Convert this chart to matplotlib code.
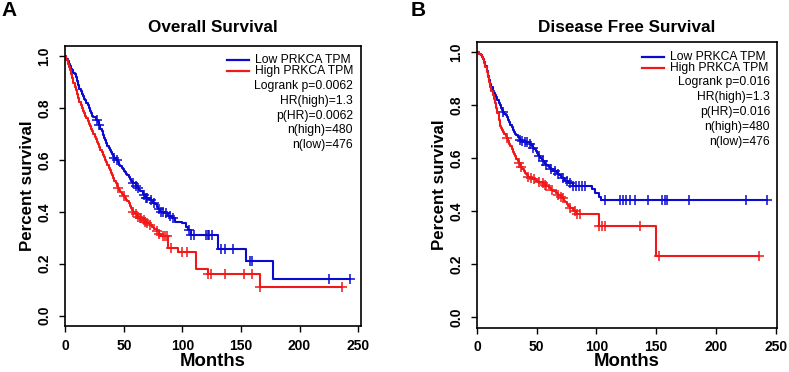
import numpy as np
import matplotlib.pyplot as plt
from matplotlib.lines import Line2D

plt.rcParams['font.family'] = ['Liberation Sans', 'DejaVu Sans']

# ---- data: (months, survival) knots of the KM steps ----
os_low_t = [0, 1, 2, 3, 4, 5, 6, 7, 8, 9, 10, 11, 12, 13, 14, 15, 16, 17, 18, 19, 20, 21, 22, 23,
            24, 26, 28, 29, 30, 31, 32, 33, 34, 35, 36, 37, 38, 39, 40, 41, 42, 43, 45, 46, 47,
            48, 49, 50, 51, 52, 53, 54, 55, 56, 57, 58, 60, 61, 62, 63, 64, 66, 67, 68, 69, 71,
            72, 74, 75, 77, 78, 79, 81, 85, 88, 91, 94, 100, 103, 105, 107, 130, 154, 177, 243]
os_low_s = [1.0, 0.99, 0.98, 0.97, 0.96, 0.95, 0.945, 0.935, 0.93, 0.92, 0.905, 0.89, 0.875,
            0.865, 0.855, 0.845, 0.835, 0.83, 0.82, 0.81, 0.80, 0.79, 0.78, 0.77, 0.765, 0.755,
            0.745, 0.735, 0.72, 0.71, 0.695, 0.685, 0.675, 0.665, 0.655, 0.645, 0.638, 0.63,
            0.622, 0.615, 0.608, 0.60, 0.59, 0.582, 0.575, 0.57, 0.563, 0.558, 0.552, 0.545,
            0.54, 0.535, 0.528, 0.52, 0.515, 0.51, 0.50, 0.495, 0.49, 0.485, 0.48, 0.47, 0.465,
            0.46, 0.455, 0.45, 0.445, 0.44, 0.435, 0.43, 0.42, 0.41, 0.40, 0.395, 0.385, 0.375,
            0.36, 0.355, 0.34, 0.33, 0.31, 0.255, 0.21, 0.14, 0.14]
os_high_t = [0, 1, 2, 3, 4, 5, 6, 7, 8, 9, 10, 11, 12, 13, 14, 15, 16, 17, 18, 19, 20, 21, 22,
             23, 24, 25, 26, 27, 28, 29, 30, 31, 32, 33, 34, 35, 36, 37, 38, 39, 40, 41, 42, 43,
             44, 45, 46, 47, 48, 49, 50, 51, 52, 53, 54, 55, 56, 57, 58, 59, 60, 61, 62, 64, 66,
             68, 70, 72, 74, 76, 78, 80, 82, 88, 96, 112, 122, 166, 236]
os_high_s = [1.0, 0.985, 0.97, 0.957, 0.945, 0.93, 0.915, 0.898, 0.88, 0.868, 0.855, 0.84,
             0.825, 0.812, 0.80, 0.79, 0.78, 0.77, 0.76, 0.75, 0.74, 0.73, 0.72, 0.71, 0.70,
             0.69, 0.68, 0.67, 0.66, 0.65, 0.64, 0.63, 0.62, 0.61, 0.60, 0.59, 0.58, 0.57, 0.56,
             0.55, 0.54, 0.53, 0.52, 0.51, 0.50, 0.492, 0.484, 0.475, 0.468, 0.464, 0.46, 0.453,
             0.447, 0.44, 0.432, 0.424, 0.415, 0.408, 0.40, 0.395, 0.39, 0.385, 0.38, 0.375,
             0.37, 0.362, 0.355, 0.348, 0.34, 0.333, 0.325, 0.315, 0.305, 0.26, 0.245, 0.18,
             0.16, 0.11, 0.11]
os_low_cens = [27, 29, 42, 44, 58, 60, 62, 67, 69, 70, 73, 76, 80, 82, 83, 86, 89, 92, 106, 107,
               110, 120, 122, 123, 125, 133, 136, 143, 158, 159, 225, 243]
os_high_cens = [45, 50, 58, 60, 62, 64, 65, 67, 68, 70, 72, 78, 80, 83, 85, 87, 90, 100, 104,
                122, 124, 136, 153, 159, 166, 236]

dfs_low_t = [0, 2, 3, 4, 5, 6, 7, 8, 9, 10, 11, 12, 13, 14, 15, 16, 17, 18, 19, 20, 21, 22, 23,
             24, 25, 26, 27, 28, 29, 30, 31, 32, 33, 34, 35, 36, 37, 40, 44, 45, 46, 47, 48, 49,
             50, 51, 52, 53, 54, 55, 56, 57, 58, 59, 60, 61, 62, 64, 65, 67, 68, 69, 70, 71, 73,
             74, 76, 77, 80, 96, 99, 102, 104, 243]
dfs_low_s = [1.0, 0.995, 0.99, 0.982, 0.975, 0.963, 0.95, 0.93, 0.91, 0.895, 0.88, 0.868,
             0.855, 0.847, 0.838, 0.83, 0.82, 0.81, 0.80, 0.79, 0.782, 0.775, 0.768, 0.762,
             0.755, 0.745, 0.735, 0.725, 0.717, 0.708, 0.70, 0.693, 0.686, 0.68, 0.675, 0.67,
             0.665, 0.662, 0.655, 0.65, 0.645, 0.64, 0.633, 0.627, 0.62, 0.613, 0.607, 0.60,
             0.595, 0.59, 0.585, 0.58, 0.575, 0.57, 0.567, 0.563, 0.56, 0.553, 0.55, 0.545,
             0.54, 0.535, 0.53, 0.525, 0.52, 0.515, 0.51, 0.505, 0.495, 0.485, 0.47, 0.455,
             0.442, 0.442]
dfs_high_t = [0, 2, 3, 4, 5, 6, 7, 8, 9, 10, 11, 12, 13, 14, 15, 16, 17, 18, 19, 20, 21, 22,
              23, 24, 25, 26, 27, 28, 29, 30, 31, 32, 33, 34, 35, 36, 37, 38, 39, 40, 41, 42,
              43, 45, 47, 49, 51, 55, 57, 58, 60, 62, 64, 66, 68, 70, 71, 73, 74, 75, 76, 78,
              80, 81, 83, 102, 150, 236]
dfs_high_s = [1.0, 0.995, 0.99, 0.983, 0.975, 0.96, 0.945, 0.925, 0.905, 0.888, 0.87, 0.855,
              0.84, 0.825, 0.81, 0.79, 0.77, 0.745, 0.72, 0.713, 0.707, 0.70, 0.692, 0.683,
              0.675, 0.665, 0.655, 0.645, 0.635, 0.625, 0.615, 0.607, 0.598, 0.59, 0.582, 0.573,
              0.565, 0.558, 0.552, 0.545, 0.54, 0.535, 0.53, 0.525, 0.52, 0.515, 0.51, 0.505,
              0.50, 0.495, 0.488, 0.48, 0.475, 0.47, 0.462, 0.455, 0.45, 0.44, 0.433, 0.427,
              0.42, 0.413, 0.405, 0.40, 0.39, 0.345, 0.23, 0.23]
dfs_low_cens = [22, 36, 38, 40, 42, 44, 47, 52, 55, 58, 62, 65, 68, 72, 75, 78, 80, 83, 85, 88,
                90, 107, 120, 122, 125, 128, 132, 143, 155, 157, 159, 177, 225, 243]
dfs_high_cens = [25, 35, 37, 43, 45, 48, 52, 55, 57, 58, 63, 68, 70, 72, 78, 82, 84, 86, 102,
                 105, 107, 136, 152, 236]

panels = ["A", "B"]
titles = ["Overall Survival", "Disease Free Survival"]
legend_labels = ["Low PRKCA TPM", "High PRKCA TPM"]
stats_os = ["Logrank p=0.0062", "HR(high)=1.3", "p(HR)=0.0062", "n(high)=480", "n(low)=476"]
stats_dfs = ["Logrank p=0.016", "HR(high)=1.3", "p(HR)=0.016", "n(high)=480", "n(low)=476"]

BLUE = '#0a0ad0'
RED = '#f01818'

W, H = 789, 372
fig = plt.figure(figsize=(W / 100, H / 100), dpi=100)


def fx(x):
    return x / W


def fy(y):
    return 1 - y / H


def step_value(ts, ss, t):
    i = np.searchsorted(ts, t, side='right') - 1
    return np.asarray(ss)[i]


def km_panel(box, xmax, low, high, stats, leg, title, letter, letter_x, title_y):
    x0, y0, x1, y1 = box
    ax = fig.add_axes([fx(x0), fy(y1), fx(x1 - x0), fy(y0) - fy(y1)])
    for (t, s, cens), col in [(low, BLUE), (high, RED)]:
        ax.plot(t, s, drawstyle='steps-post', color=col, lw=1.5)
        ax.plot(cens, step_value(t, s, cens), ls='none', marker='+', color=col,
                ms=7, mew=1.1)
    ax.set_xlim(0, xmax)
    ax.set_ylim(-0.04, 1.04)
    ax.set_xticks([0, 50, 100, 150, 200, 250])
    ax.set_yticks([0.0, 0.2, 0.4, 0.6, 0.8, 1.0])
    ax.set_yticklabels(['0.0', '0.2', '0.4', '0.6', '0.8', '1.0'], rotation=90, va='center')
    ax.tick_params(direction='out', length=4, width=1, labelsize=10, pad=5)
    ax.tick_params(axis='y', pad=6)
    for lab in ax.get_xticklabels() + ax.get_yticklabels():
        lab.set_fontweight('bold')
    for sp in ax.spines.values():
        sp.set_linewidth(1.2)

    # legend keys + labels
    lx0, lx1, tx, ly, rx, sy, sdy = leg
    for i, (lab, col) in enumerate(zip(legend_labels, [BLUE, RED])):
        yy = ly[i]
        fig.add_artist(Line2D([fx(lx0), fx(lx1)], [fy(yy), fy(yy)], color=col, lw=1.6))
        fig.text(fx(tx), fy(yy), lab, ha='left', va='center', fontsize=8.7)
    for i, s in enumerate(stats):
        fig.text(fx(rx), fy(sy + i * sdy), s, ha='right', va='center', fontsize=8.7)

    fig.text(fx((x0 + x1) / 2), fy(title_y), title, ha='center', va='center',
             fontsize=12.3, fontweight='bold')
    fig.text(fx(letter_x), fy(11), letter, ha='left', va='center', fontsize=15,
             fontweight='bold')
    fig.text(fx(x0 - 38), fy((y0 + y1) / 2), "Percent survival", rotation=90,
             ha='center', va='center', fontsize=12.2, fontweight='bold')
    fig.text(fx((x0 + x1) / 2), fy(362), "Months", ha='center', va='center',
             fontsize=13.4, fontweight='bold')
    return ax


km_panel((65.3, 45.7, 361, 326), 252.5,
         (os_low_t, os_low_s, os_low_cens), (os_high_t, os_high_s, os_high_cens),
         stats_os, (227, 249, 255, [60, 71], 353, 86, 14.75),
         titles[0], panels[0], 1, 27)
km_panel((477, 41.7, 776.7, 327.7), 250.8,
         (dfs_low_t, dfs_low_s, dfs_low_cens), (dfs_high_t, dfs_high_s, dfs_high_cens),
         stats_dfs, (641.7, 664, 670, [56.7, 67.7], 770, 81.7, 15.15),
         titles[1], panels[1], 411, 27)

fig.savefig('out.png', dpi=100)
